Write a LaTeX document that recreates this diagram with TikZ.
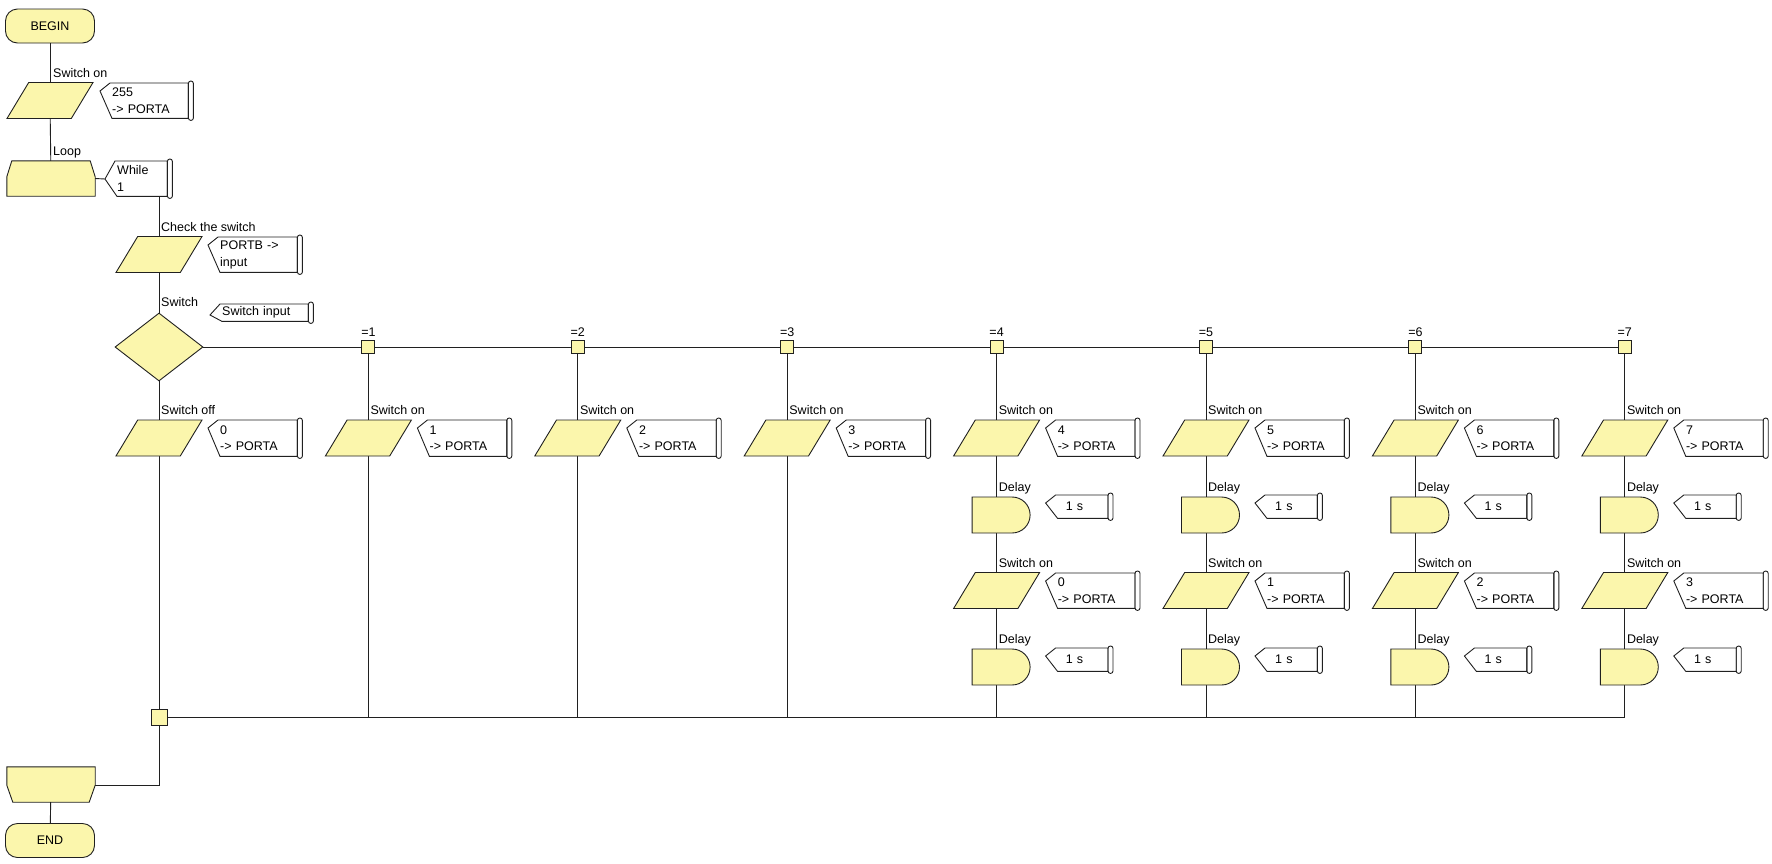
\documentclass[tikz,border=0pt]{standalone}
\usepackage{fontspec}
\setmainfont{Liberation Sans}
\usepackage{tikz}
\usetikzlibrary{shapes.geometric,shapes.misc,backgrounds}
\usepackage{xcolor}
\definecolor{BoxFill}{HTML}{FBF6AC}
\definecolor{LineCol}{HTML}{202020}
\newcommand{\fcfont}{\fontsize{12.5}{16.5}\selectfont}
\newcommand{\noteframe}[2]{%
  \draw[noteline] ([xshift=10pt]#1.north west) -- ([xshift=-5pt]#1.north east)
    -- ([xshift=-5pt]#1.south east) -- ([xshift=12pt]#1.south west)
    -- ([yshift=-#2]#1.north west) -- cycle;
  \draw[noteline, rounded corners=2.4pt] ([xshift=-5pt,yshift=2pt]#1.north east)
    rectangle ([yshift=-2pt]#1.south east);}

\tikzset{
  wire/.style={draw=LineCol, line width=0.9pt},
  noteline/.style={draw=LineCol, line width=0.9pt},
  base/.style={draw=LineCol, line width=0.9pt, fill=BoxFill, inner sep=2pt},
  term/.style={base, rectangle, rounded corners=12pt, font=\fcfont,
               minimum width=89pt, minimum height=34pt},
  io/.style={base, trapezium, trapezium left angle=63, trapezium right angle=117,
             trapezium stretches=true, minimum width=86pt, minimum height=36pt},
  loopbox/.style={rectangle, inner sep=2pt, minimum width=88pt, minimum height=35pt},
  dec/.style={base, diamond, minimum width=88pt, minimum height=68pt},
  dly/.style={base, rounded rectangle, rounded rectangle left arc=none,
              minimum width=62pt, minimum height=36pt},
  sel/.style={base, rectangle, minimum size=13pt},
  jnc/.style={base, rectangle, minimum size=16pt},
  lbl/.style={font=\fcfont, inner sep=0pt, anchor=base west},
  note/.style={anchor=north west, inner ysep=0pt, inner xsep=12pt, align=left,
               font=\fcfont, minimum height=35pt}
}

\begin{document}
\begin{tikzpicture}[x=1pt, y=-1pt]
  \useasboundingbox (0,0) rectangle (1772,863);

  % main line
  \node[term] (begin) at (50,26) {BEGIN};
  \node[lbl] (l0) at (53,77) {Switch on};
  \node[io] (out0) at (50,100.5) {};
  \node[note, text width=69pt] (n0) at (100,83) {255\\-> PORTA};
  \noteframe{n0}{8pt}

  \node[lbl] (l1) at (53,155) {Loop};
  \node[loopbox] (lbeg) at (51,178.5) {};
  \filldraw[base] ([yshift=-16pt]lbeg.north west) -- ([xshift=5pt]lbeg.north west)
    -- ([xshift=-5pt]lbeg.north east) -- ([yshift=-16pt]lbeg.north east)
    -- (lbeg.south east) -- (lbeg.south west) -- cycle;
  \node[note, text width=43pt] (wh) at (105,161) {While\\1};
  \noteframe{wh}{18pt}

  \node[lbl] (l2) at (161,231) {Check the switch};
  \node[io] (chk) at (159,254.5) {};
  \node[note, text width=70pt] (nb) at (208,237) {PORTB ->\\input};
  \noteframe{nb}{8pt}

  \node[lbl] (l3) at (161,306) {Switch};
  \node[dec] (sw) at (159,347) {};
  \node[note, text width=79pt, minimum height=17pt] (ns) at (210,304) {Switch input};
  \noteframe{ns}{11pt}

  \node[lbl] (l4) at (161,414) {Switch off};
  \node[io] (c0) at (159,438) {};
  \node[note, text width=70pt, minimum height=36pt] (p0) at (208,420) {0\\-> PORTA};
  \noteframe{p0}{8pt}

  \node[jnc] (jn) at (159,717) {};
  \node[loopbox] (lend) at (51,784.5) {};
  \filldraw[base] (lend.north west) -- (lend.north east)
    -- ([yshift=17pt]lend.south east) -- ([xshift=-6pt]lend.south east)
    -- ([xshift=6pt]lend.south west) -- ([yshift=17pt]lend.south west) -- cycle;
  \node[term] (end) at (50,840.5) {END};

  % switch cases
  \foreach \k in {1,...,7}{
    \pgfmathsetmacro{\cx}{159+209.4*\k}
    \node[sel] (sq\k) at (\cx,347) {};
    \node[lbl, anchor=base] (eq\k) at (\cx,336) {=\k};
    \node[lbl] (lo\k) at (\cx+2,414) {Switch on};
    \node[io] (c\k) at (\cx,438) {};
    \node[note, text width=70pt, minimum height=36pt] (p\k) at (\cx+49,420) {\k\\-> PORTA};
    \noteframe{p\k}{8pt}
  }
  \foreach \k/\v in {4/0,5/1,6/2,7/3}{
    \pgfmathsetmacro{\cx}{159+209.4*\k}
    \node[lbl] (la\k) at (\cx+2,491) {Delay};
    \node[dly] (da\k) at (\cx+4.5,515) {};
    \node[note, text width=27pt, inner xsep=20pt, minimum height=23pt] (ta\k) at (\cx+49,495) {1 s};
    \noteframe{ta\k}{8pt}
    \node[lbl] (lb\k) at (\cx+2,567) {Switch on};
    \node[io] (e\k) at (\cx,590.5) {};
    \node[note, text width=70pt] (q\k) at (\cx+49,573) {\v\\-> PORTA};
    \noteframe{q\k}{8pt}
    \node[lbl] (lc\k) at (\cx+2,643) {Delay};
    \node[dly] (db\k) at (\cx+4.5,667) {};
    \node[note, text width=27pt, inner xsep=20pt, minimum height=23pt] (tb\k) at (\cx+49,648) {1 s};
    \noteframe{tb\k}{8pt}
  }

  \begin{scope}[on background layer]
    \draw[wire] (chk |- wh.south) -- (jn);
    \draw[wire] (sw) -- (sq7);
    \foreach \k in {1,...,7} \draw[wire] (sq\k) -- (sq\k |- jn);
    \draw[wire] (jn) -- (sq7 |- jn);
  \end{scope}

  \draw[wire] (begin) -- (out0);
  \draw[wire] (out0) -- (lbeg);
  \draw[wire] (lbeg.east) -- ([yshift=-18pt]wh.north west);
  \draw[wire] (jn) |- ([yshift=17pt]lend.south east);
  \draw[wire] (lend) -- (end);
\end{tikzpicture}
\end{document}
